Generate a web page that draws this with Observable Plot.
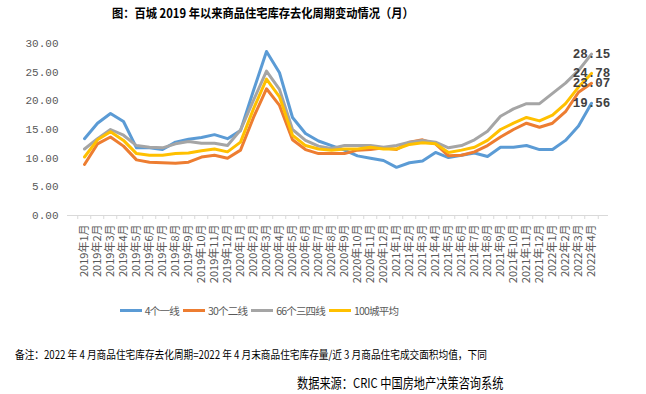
<!DOCTYPE html>
<html>
<head>
<meta charset="utf-8">
<script src="https://cdn.jsdelivr.net/npm/d3@7"></script>
<script src="https://cdn.jsdelivr.net/npm/@observablehq/plot@0.6"></script>
<style>
  body { margin:0; width:646px; height:394px; position:relative; overflow:hidden; background:#fff;
         font-family:"Noto Sans CJK SC", sans-serif; }
  #title { position:absolute; left:112px; top:3px; font-size:12.5px; font-weight:bold; color:#000; white-space:nowrap;
           transform:scaleX(0.9); transform-origin:left center; }
  #chart { position:absolute; left:0; top:28px; }
  #legend { position:absolute; left:0; top:303px; width:518px; display:flex; justify-content:center; gap:4px;
            font-size:10.5px; letter-spacing:-0.8px; color:#595959; align-items:center; }
  #legend .item { display:flex; align-items:center; }
  #legend .sw { width:22px; height:3px; margin-right:3px; }
  #note { position:absolute; left:15px; top:346px; font-size:11.5px; color:#000; white-space:nowrap;
          transform:scaleX(0.84); transform-origin:left center; }
  #source { position:absolute; left:297px; top:372px; font-size:13.5px; color:#000; white-space:nowrap;
            transform:scaleX(0.83); transform-origin:left center; }
</style>
</head>
<body>
<div id="title">图：百城 2019 年以来商品住宅库存去化周期变动情况（月）</div>
<div id="chart"></div>
<div id="legend"></div>
<div id="note">备注：2022 年 4 月商品住宅库存去化周期=2022 年 4 月末商品住宅库存量/近 3 月商品住宅成交面积均值，下同</div>
<div id="source">数据来源：CRIC 中国房地产决策咨询系统</div>
<script>
const months = [
  "2019年1月","2019年2月","2019年3月","2019年4月","2019年5月","2019年6月","2019年7月","2019年8月","2019年9月","2019年10月","2019年11月","2019年12月",
  "2020年1月","2020年2月","2020年3月","2020年4月","2020年5月","2020年6月","2020年7月","2020年8月","2020年9月","2020年10月","2020年11月","2020年12月",
  "2021年1月","2021年2月","2021年3月","2021年4月","2021年5月","2021年6月","2021年7月","2021年8月","2021年9月","2021年10月","2021年11月","2021年12月",
  "2022年1月","2022年2月","2022年3月","2022年4月"
];
const seriesNames = ["4个一线","30个二线","66个三四线","100城平均"];
const seriesColors = ["#5B9BD5","#ED7D31","#A5A5A5","#FFC000"];
const tier1 = [13.4,16.1,17.8,16.4,11.8,11.8,11.5,12.8,13.3,13.6,14.1,13.4,14.8,21.8,28.6,24.9,17.1,14.3,13.0,12.2,
               11.4,10.4,10.0,9.6,8.4,9.2,9.5,11.0,10.1,10.5,10.9,10.3,11.9,11.9,12.2,11.5,11.5,13.1,15.6,19.56];
const tier2 = [8.9,12.5,13.7,12.1,9.7,9.3,9.2,9.1,9.3,10.2,10.5,10.0,11.4,17.1,22.1,19.2,13.2,11.5,10.8,10.8,
               10.8,11.4,11.5,11.8,11.5,12.8,13.2,12.5,10.4,10.5,11.1,12.2,13.7,15.0,16.1,15.4,16.1,18.1,21.5,23.07];
const tier34 = [11.6,13.4,15.0,14.0,12.2,11.9,11.8,12.5,12.9,12.6,12.6,12.2,14.9,20.1,25.2,22.0,15.0,13.1,12.1,11.7,
               12.2,12.2,12.2,11.9,12.2,12.8,13.1,12.8,11.8,12.2,13.2,14.7,17.3,18.6,19.5,19.5,21.3,23.1,25.3,28.15];
const avg100 = [10.2,13.2,14.6,13.1,10.8,10.5,10.5,10.8,10.9,11.3,11.6,11.1,12.8,18.6,23.8,20.7,14.0,12.2,11.6,11.4,
               11.6,11.6,11.9,11.6,11.6,12.4,12.7,12.5,11.0,11.4,11.9,13.1,15.0,16.1,17.1,16.5,17.5,19.5,22.4,24.78];
const yTicks = [0,5,10,15,20,25,30];

const seriesValues = [tier1, tier2, tier34, avg100];
const rows = [];
seriesValues.forEach((vals, k) => vals.forEach((v, i) => rows.push({month: months[i], value: v, name: seriesNames[k]})));
const lastRows = seriesValues.map((vals, k) => ({month: months[months.length - 1], value: vals[vals.length - 1], name: seriesNames[k]}));

const W = 646, H = 262, mL = 67, mR = 38, mT = 15, mB = 75;
const step = (W - mL - mR) / months.length;

const chart = Plot.plot({
  width: W, height: H, marginLeft: mL, marginRight: mR, marginTop: mT, marginBottom: mB,
  style: {fontFamily: "'Noto Sans CJK SC', sans-serif", fontSize: "11px", color: "#595959", background: "#fff"},
  x: {type: "point", domain: months, padding: 0.5},
  y: {domain: [0, 30]},
  color: {domain: seriesNames, range: seriesColors},
  marks: [
    Plot.ruleY([0], {stroke: "#d9d9d9", strokeWidth: 1}),
    Plot.ruleX(months, {x: d => d, y1: 0, y2: 0, dx: -step / 2, insetBottom: -4, stroke: "#d9d9d9"}),
    Plot.ruleX([months[months.length - 1]], {x: d => d, y1: 0, y2: 0, dx: step / 2, insetBottom: -4, stroke: "#d9d9d9"}),
    Plot.axisY({ticks: yTicks, tickSize: 0, tickPadding: 9, tickFormat: d3.format(".2f"), label: null,
                fontFamily: "'Liberation Mono', monospace", fontSize: 11, fill: "#595959"}),
    Plot.axisX({tickSize: 0, tickRotate: -90, tickPadding: 9, label: null, fill: "#595959", fontSize: 11}),
    Plot.line(rows, {x: "month", y: "value", z: "name", stroke: "name", strokeWidth: 3, strokeLinejoin: "round", strokeLinecap: "round"}),
    Plot.text(lastRows, {x: "month", y: "value", text: d => d.value.toFixed(2), fill: "#404040",
                         fontWeight: "bold", fontSize: 12.5, fontFamily: "'Liberation Mono', monospace", textAnchor: "middle"})
  ]
});
document.getElementById("chart").appendChild(chart);

const legend = document.getElementById("legend");
seriesNames.forEach((n, k) => {
  const it = document.createElement("div");
  it.className = "item";
  it.innerHTML = `<span class="sw" style="background:${seriesColors[k]}"></span><span>${n}</span>`;
  legend.appendChild(it);
});
</script>
</body>
</html>
